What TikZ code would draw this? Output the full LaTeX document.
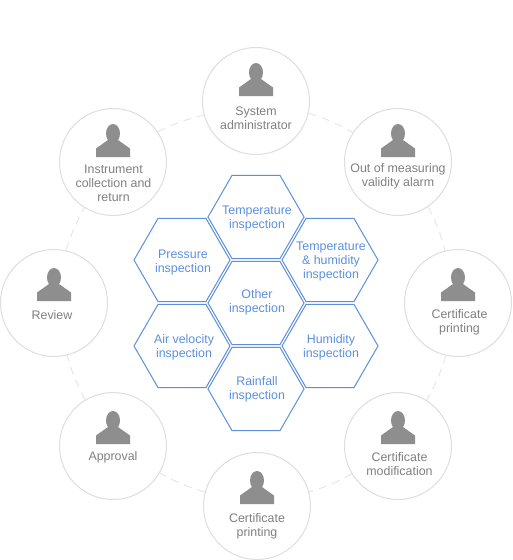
\documentclass[tikz,border=0pt]{standalone}
\usepackage{fontspec}
\setmainfont{Liberation Sans}
\usepackage{xcolor}
\usetikzlibrary{shapes}
\definecolor{ringgray}{HTML}{DEDEDE}
\definecolor{icongray}{HTML}{8E8E8E}
\definecolor{labelgray}{HTML}{808080}
\definecolor{hexblue}{HTML}{5B8FDC}
\tikzset{
  usercircle/.style={circle,draw=ringgray,line width=1pt,fill=white,minimum size=107pt,inner sep=0pt},
  userlabel/.style={text=labelgray,align=center,font=\fontsize{12.4}{14}\selectfont,inner sep=0pt},
  hexcell/.style={regular polygon,regular polygon sides=6,draw=hexblue,line width=1pt,minimum size=96pt,inner sep=0pt},
  hexlabel/.style={userlabel,text=hexblue},
  ringlink/.style={draw=ringgray!75,line width=1pt,dash pattern=on 8pt off 6pt},
  person/.pic={
    \fill[icongray] (0,-28.5) ellipse (7pt and 9.5pt);
    \fill[icongray] (-17,-5)--(-17,-13.5)--(-5,-22)--(5,-22)--(17,-13.5)--(17,-5)--cycle;
  }
}
\begin{document}
\begin{tikzpicture}[x=1pt,y=-1pt]
\useasboundingbox (0,0) rectangle (512,560);
\node[usercircle] (admin) at (256,101) {};
\node[usercircle] (alarm) at (398,162) {};
\node[usercircle] (printright) at (458,303) {};
\node[usercircle] (modify) at (398,446) {};
\node[usercircle] (printbottom) at (257,506) {};
\node[usercircle] (approval) at (113,446) {};
\node[usercircle] (review) at (54,303) {};
\node[usercircle] (instrument) at (113,162) {};
\draw[ringlink] (admin.-13) to[bend left=6] (alarm.147);
\draw[ringlink] (alarm.-56) to[bend left=6] (printright.104);
\draw[ringlink] (printright.-103) to[bend left=6] (modify.58);
\draw[ringlink] (modify.211) to[bend left=6] (printbottom.15);
\draw[ringlink] (printbottom.165) to[bend left=6] (approval.-30);
\draw[ringlink] (approval.121) to[bend left=6] (review.-76);
\draw[ringlink] (review.77) to[bend left=6] (instrument.238);
\draw[ringlink] (instrument.34) to[bend left=6] (admin.195);
\pic at (admin) {person};
\pic at (alarm) {person};
\pic at ([yshift=-3pt]printright) {person};
\pic at ([yshift=-3pt]modify) {person};
\pic at ([yshift=-3pt]printbottom) {person};
\pic at ([yshift=-3pt]approval) {person};
\pic at ([yshift=-3pt]review) {person};
\pic at (instrument) {person};
\node[userlabel] (adminlabel) at (256,118.5) {System\\administrator};
\node[userlabel] (alarmlabel) at (398,176.5) {Out of measuring\\validity alarm};
\node[userlabel] (printrightlabel) at (459.5,322.5) {Certificate\\printing};
\node[userlabel] (modifylabel) at (399.5,464.5) {Certificate\\modification};
\node[userlabel] (printbottomlabel) at (257,526) {Certificate\\printing};
\node[userlabel] (approvallabel) at (113,457.5) {Approval};
\node[userlabel] (reviewlabel) at (52,315.5) {Review};
\node[userlabel] (instrumentlabel) at (113.5,183.5) {Instrument\\collection and\\return};
\node[hexcell] (temp) at (256,217) {};
\node[hexcell] (pressure) at (182,260) {};
\node[hexcell] (temphum) at (330,260) {};
\node[hexcell] (other) at (256,303) {};
\node[hexcell] (air) at (182,346) {};
\node[hexcell] (humidity) at (330,346) {};
\node[hexcell] (rainfall) at (256,389) {};
\node[hexlabel] (templabel) at (257,218.5) {Temperature\\inspection};
\node[hexlabel] (pressurelabel) at (183,262.5) {Pressure\\inspection};
\node[hexlabel] (temphumlabel) at (331,261.5) {Temperature\\\& humidity\\inspection};
\node[hexlabel] (otherlabel) at (257,302.5) {Other\\inspection};
\node[hexlabel] (airlabel) at (184,347.5) {Air velocity\\inspection};
\node[hexlabel] (humiditylabel) at (331,347.5) {Humidity\\inspection};
\node[hexlabel] (rainfalllabel) at (257,389.5) {Rainfall\\inspection};
\end{tikzpicture}
\end{document}
